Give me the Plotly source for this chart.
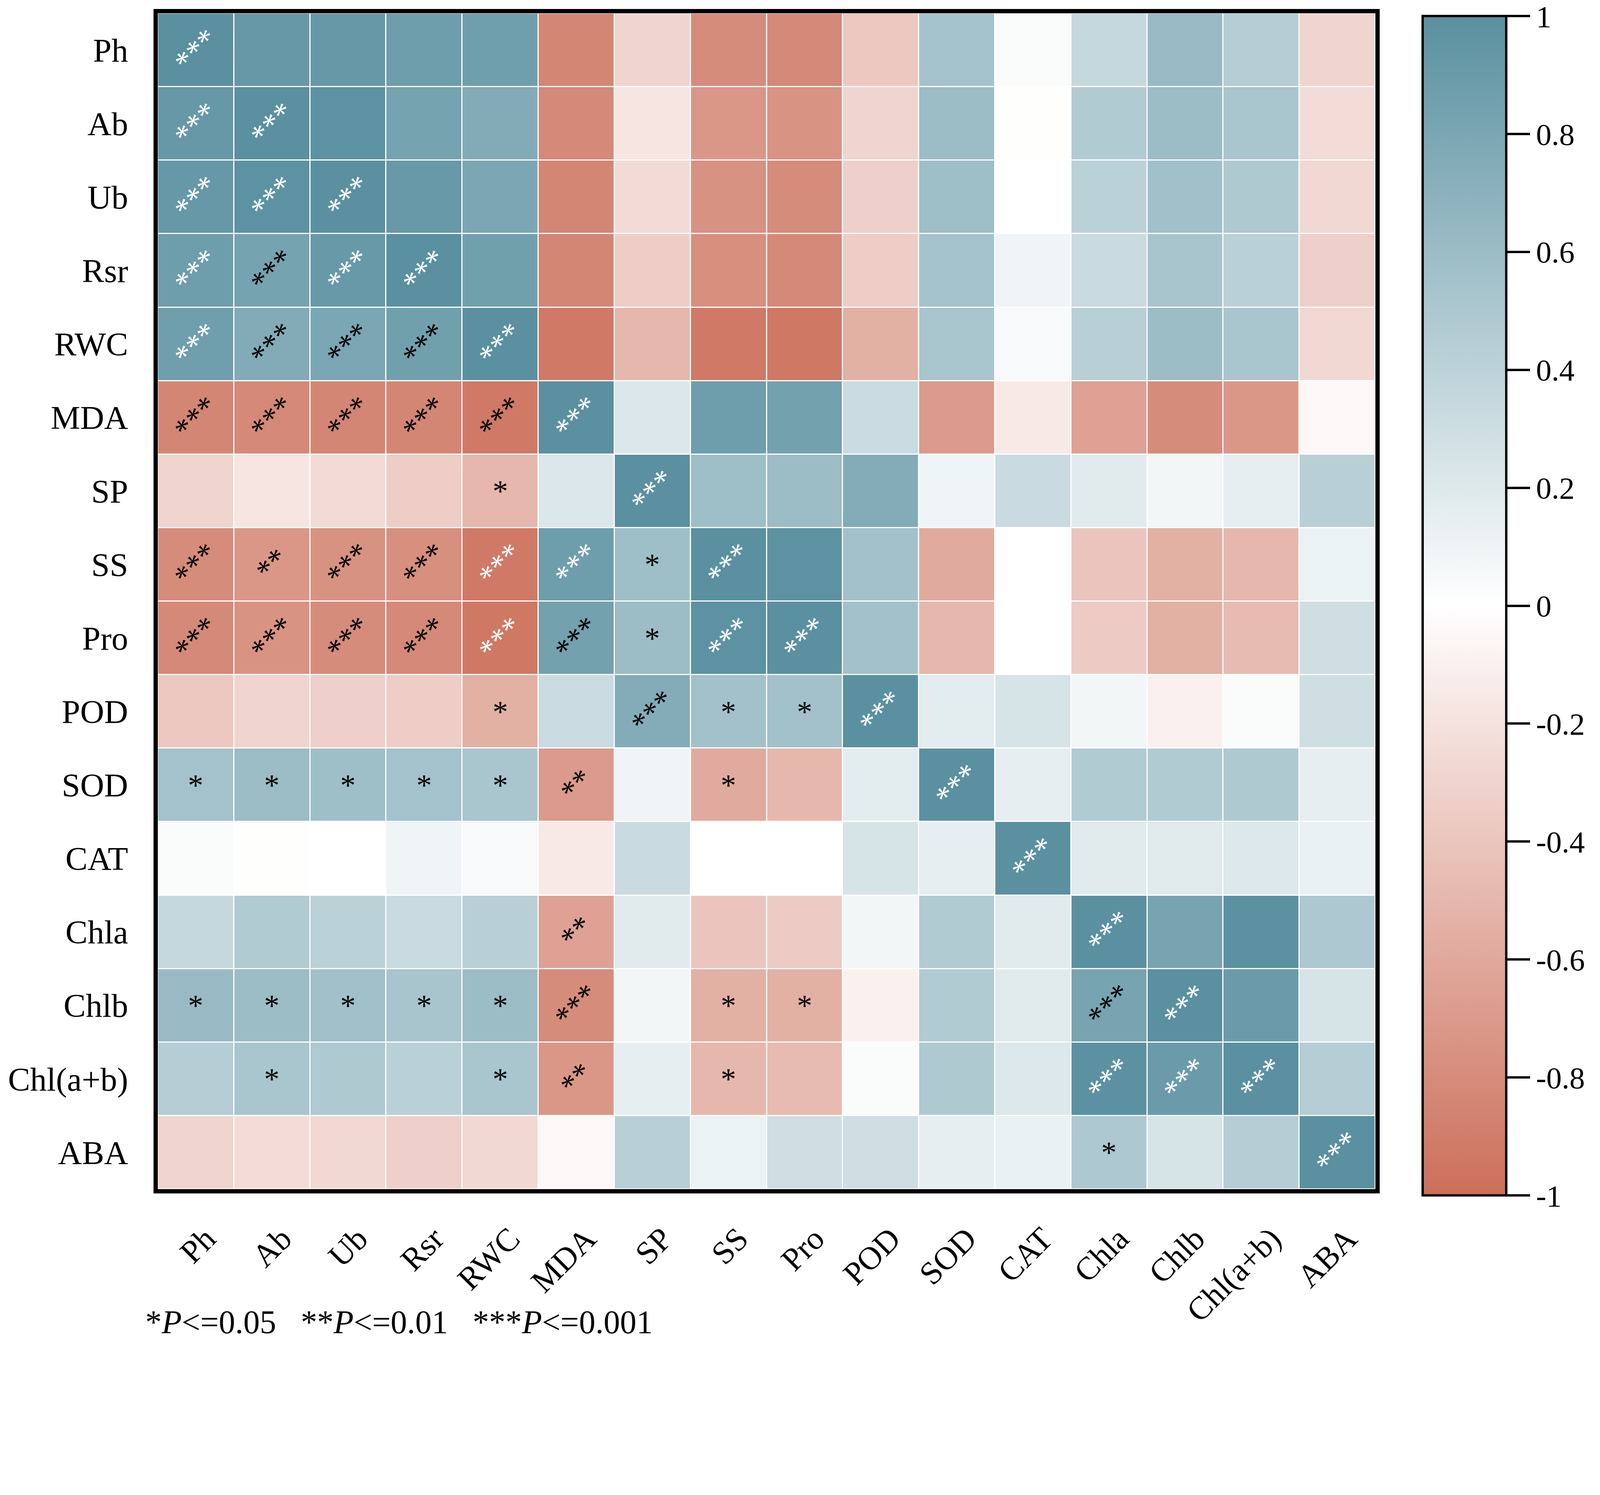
import plotly.graph_objects as go

variables = ["Ph", "Ab", "Ub", "Rsr", "RWC", "MDA", "SP", "SS", "Pro", "POD",
             "SOD", "CAT", "Chla", "Chlb", "Chl(a+b)", "ABA"]

# lower triangle of the correlation matrix (diagonal included), row by row
corr_lower = [
    [1.00],
    [0.93, 1.00],
    [0.93, 0.98, 1.00],
    [0.88, 0.83, 0.92, 1.00],
    [0.87, 0.76, 0.80, 0.86, 1.00],
    [-0.84, -0.82, -0.84, -0.84, -0.93, 1.00],
    [-0.30, -0.18, -0.25, -0.35, -0.50, 0.22, 1.00],
    [-0.80, -0.72, -0.76, -0.78, -0.93, 0.88, 0.58, 1.00],
    [-0.82, -0.75, -0.80, -0.82, -0.94, 0.85, 0.60, 0.98, 1.00],
    [-0.38, -0.30, -0.33, -0.35, -0.55, 0.32, 0.75, 0.56, 0.56, 1.00],
    [0.55, 0.60, 0.58, 0.55, 0.52, -0.70, 0.10, -0.59, -0.50, 0.17, 1.00],
    [0.03, -0.01, 0.00, 0.10, 0.05, -0.15, 0.33, 0.00, 0.00, 0.25, 0.15, 1.00],
    [0.35, 0.47, 0.41, 0.33, 0.43, -0.65, 0.18, -0.40, -0.36, 0.08, 0.47, 0.18, 1.00],
    [0.62, 0.60, 0.57, 0.53, 0.60, -0.80, 0.08, -0.55, -0.55, -0.10, 0.47, 0.19, 0.82, 1.00],
    [0.45, 0.52, 0.49, 0.42, 0.52, -0.72, 0.15, -0.50, -0.47, 0.03, 0.49, 0.21, 0.99, 0.90, 1.00],
    [-0.30, -0.24, -0.27, -0.33, -0.27, -0.05, 0.43, 0.12, 0.30, 0.30, 0.15, 0.13, 0.50, 0.25, 0.45, 1.00],
]

# significance marks shown in the lower triangle
stars_lower = [
    ["***"],
    ["***", "***"],
    ["***", "***", "***"],
    ["***", "***", "***", "***"],
    ["***", "***", "***", "***", "***"],
    ["***", "***", "***", "***", "***", "***"],
    ["", "", "", "", "*", "", "***"],
    ["***", "**", "***", "***", "***", "***", "*", "***"],
    ["***", "***", "***", "***", "***", "***", "*", "***", "***"],
    ["", "", "", "", "*", "", "***", "*", "*", "***"],
    ["*", "*", "*", "*", "*", "**", "", "*", "", "", "***"],
    ["", "", "", "", "", "", "", "", "", "", "", "***"],
    ["", "", "", "", "", "**", "", "", "", "", "", "", "***"],
    ["*", "*", "*", "*", "*", "***", "", "*", "*", "", "", "", "***", "***"],
    ["", "*", "", "", "*", "**", "", "*", "", "", "", "", "***", "***", "***"],
    ["", "", "", "", "", "", "", "", "", "", "", "", "*", "", "", "***"],
]

# off-diagonal cells whose marks are drawn in white (diagonal is always white)
white_marks = [("Ab", "Ph"), ("Ub", "Ph"), ("Ub", "Ab"), ("Rsr", "Ph"), ("Rsr", "Ub"),
               ("RWC", "Ph"), ("SS", "RWC"), ("SS", "MDA"), ("Pro", "RWC"), ("Pro", "SS"),
               ("Chl(a+b)", "Chla"), ("Chl(a+b)", "Chlb")]

cbar_ticks = [1, 0.8, 0.6, 0.4, 0.2, 0, -0.2, -0.4, -0.6, -0.8, -1]
cbar_text = ["1", "0.8", "0.6", "0.4", "0.2", "0", "-0.2", "-0.4", "-0.6", "-0.8", "-1"]

FONT = "Liberation Serif"

# the page is photographed at ~1.11x, so lay out in reference pixels * S
S = 0.9
BODY = 8  # default body margin of the html page
W = round(4555 * S) - 2 * BODY
H = round(3827 * S) - 2 * BODY


def pos(v):
    return round(v * S) - BODY


def size(v):
    return max(1, round(v * S))


plot_l, plot_r, plot_t, plot_b = pos(430), pos(3912), pos(38), pos(3382)
plot_w, plot_h = plot_r - plot_l, plot_b - plot_t

n = len(variables)
z = [[0.0] * n for _ in range(n)]
for i, row in enumerate(corr_lower):
    for j, v in enumerate(row):
        z[i][j] = v
        z[j][i] = v

fig = go.Figure(
    go.Heatmap(
        z=z,
        x=variables,
        y=variables,
        zmin=-1,
        zmax=1,
        colorscale=[[0, "rgb(204,111,90)"], [0.5, "rgb(255,255,255)"], [1, "rgb(90,144,160)"]],
        xgap=3,
        ygap=3,
        colorbar=dict(
            x=(pos(4048) - plot_l) / plot_w, xanchor="left",
            y=(plot_b - pos(46)) / plot_h, yanchor="top",
            len=size(3354), lenmode="pixels",
            thickness=size(238), thicknessmode="pixels",
            outlinewidth=size(7), outlinecolor="black",
            xpad=0, ypad=0,
            tickmode="array", tickvals=cbar_ticks, ticktext=cbar_text,
            ticks="outside", ticklen=size(64), tickwidth=size(7), tickcolor="black",
            ticklabeloverflow="allow",
            tickfont=dict(family=FONT, size=size(88), color="black"),
        ),
    )
)

# star annotations
for i, row in enumerate(stars_lower):
    for j, s in enumerate(row):
        if not s:
            continue
        white = i == j or (variables[i], variables[j]) in white_marks
        fig.add_annotation(
            x=variables[j], y=variables[i],
            text=s, showarrow=False,
            textangle=-45 if len(s) > 1 else 0,
            font=dict(family=FONT, size=size(88), color="white" if white else "black"),
        )

# footnote
fig.add_annotation(
    xref="paper", yref="paper",
    x=-0.011, y=-(3760 - 3382) / (3382 - 38),
    xanchor="left", yanchor="middle",
    text="*<i>P</i>&lt;=0.05&nbsp;&nbsp;&nbsp;**<i>P</i>&lt;=0.01&nbsp;&nbsp;&nbsp;***<i>P</i>&lt;=0.001",
    showarrow=False,
    font=dict(family=FONT, size=size(93), color="black"),
)

fig.update_xaxes(
    side="bottom", tickangle=-45,
    tickfont=dict(family=FONT, size=size(92), color="black"),
    showline=True, mirror=True, linewidth=size(12), linecolor="black",
    ticks="", showgrid=False, zeroline=False,
    ticklabelstandoff=34, ticklabelshift=26,
)
fig.update_yaxes(
    autorange="reversed",
    tickfont=dict(family=FONT, size=size(94), color="black"),
    showline=True, mirror=True, linewidth=size(12), linecolor="black",
    ticks="", showgrid=False, zeroline=False,
    ticklabelstandoff=48,
)

fig.update_layout(
    width=W, height=H,
    margin=dict(l=plot_l, r=W - plot_r, t=plot_t, b=H - plot_b),
    plot_bgcolor="white",
    paper_bgcolor="white",
    showlegend=False,
)

fig.write_html("out.html")
